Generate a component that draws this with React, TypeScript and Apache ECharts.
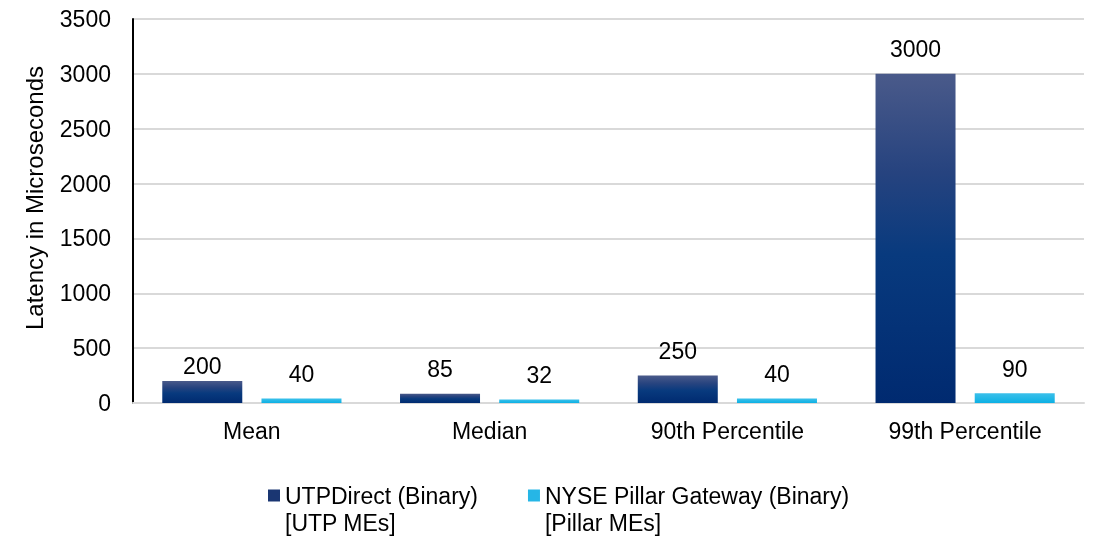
import React, { useEffect, useRef } from "react";
import * as echarts from "echarts";

const categories = ["Mean", "Median", "90th Percentile", "99th Percentile"];
const utpDirect = [200, 85, 250, 3000];
const pillarGateway = [40, 32, 40, 90];
const seriesNames = ["\nUTPDirect (Binary)\n[UTP MEs]", "\nNYSE Pillar Gateway (Binary)\n[Pillar MEs]"];
const yMin = 0;
const yMax = 3500;
const yInterval = 500;

const FONT = "'Liberation Sans', Arial, sans-serif";
const FS = 23;

export default function App() {
  const ref = useRef<HTMLDivElement>(null);
  useEffect(() => {
    if (!ref.current) return;
    const chart = echarts.init(ref.current, undefined, { renderer: "svg" });
    const darkGrad = new echarts.graphic.LinearGradient(0, 0, 0, 1, [
      { offset: 0, color: "#4a5a8a" },
      { offset: 0.3, color: "#26437f" },
      { offset: 0.55, color: "#083a7e" },
      { offset: 1, color: "#002a70" },
    ]);
    const cyanGrad = new echarts.graphic.LinearGradient(0, 0, 0, 1, [
      { offset: 0, color: "#3cc0ea" },
      { offset: 1, color: "#0cb0e4" },
    ]);
    const labelStyle = {
      show: true,
      position: "top" as const,
      distance: 13,
      color: "#000",
      fontSize: FS,
      fontFamily: FONT,
    };
    // Excel moved the first label of the dark series closer to its bar
    const utpData = utpDirect.map((v, i) =>
      i === 0 ? { value: v, label: { distance: 4 } } : v
    );
    chart.setOption({
      animation: false,
      textStyle: { fontFamily: FONT },
      grid: { left: 133, right: 10, top: 19, bottom: 136, containLabel: false },
      legend: {
        left: 268,
        top: 455,
        padding: 0,
        itemWidth: 12,
        itemHeight: 12,
        itemGap: 50,
        icon: "rect",
        textStyle: { fontSize: FS, color: "#000", fontFamily: FONT, lineHeight: 27, padding: [0, 0, 0, 0] },
        data: [
          { name: seriesNames[0], itemStyle: { color: "#1a3672" } },
          { name: seriesNames[1], itemStyle: { color: "#26b6e6" } },
        ],
      },
      xAxis: {
        type: "category",
        data: categories,
        axisLine: { show: true, lineStyle: { color: "#d9d9d9", width: 2 } },
        axisTick: { show: false },
        axisLabel: { color: "#000", fontSize: FS, fontFamily: FONT, margin: 16 },
      },
      yAxis: {
        type: "value",
        min: yMin,
        max: yMax,
        interval: yInterval,
        name: "Latency in Microseconds",
        nameLocation: "middle",
        nameGap: 87,
        nameTextStyle: { color: "#000", fontSize: 24, fontFamily: FONT, padding: [0, 0, 0, 26] },
        axisLine: { show: true, lineStyle: { color: "#000", width: 2 } },
        axisTick: { show: false },
        axisLabel: { color: "#000", fontSize: FS, fontFamily: FONT, margin: 22, formatter: (v: number) => String(v) },
        splitLine: { show: true, lineStyle: { color: "#d9d9d9", width: 2 } },
      },
      series: [
        {
          name: seriesNames[0],
          type: "bar",
          data: utpData,
          barWidth: 80,
          barGap: "24%",
          itemStyle: { color: darkGrad },
          label: labelStyle,
        },
        {
          name: seriesNames[1],
          type: "bar",
          data: pillarGateway,
          barWidth: 80,
          itemStyle: { color: cyanGrad },
          label: labelStyle,
        },
      ],
    });
    return () => chart.dispose();
  }, []);
  return <div ref={ref} style={{ position: "fixed", left: 0, top: 0, width: 1094, height: 539 }} />;
}
